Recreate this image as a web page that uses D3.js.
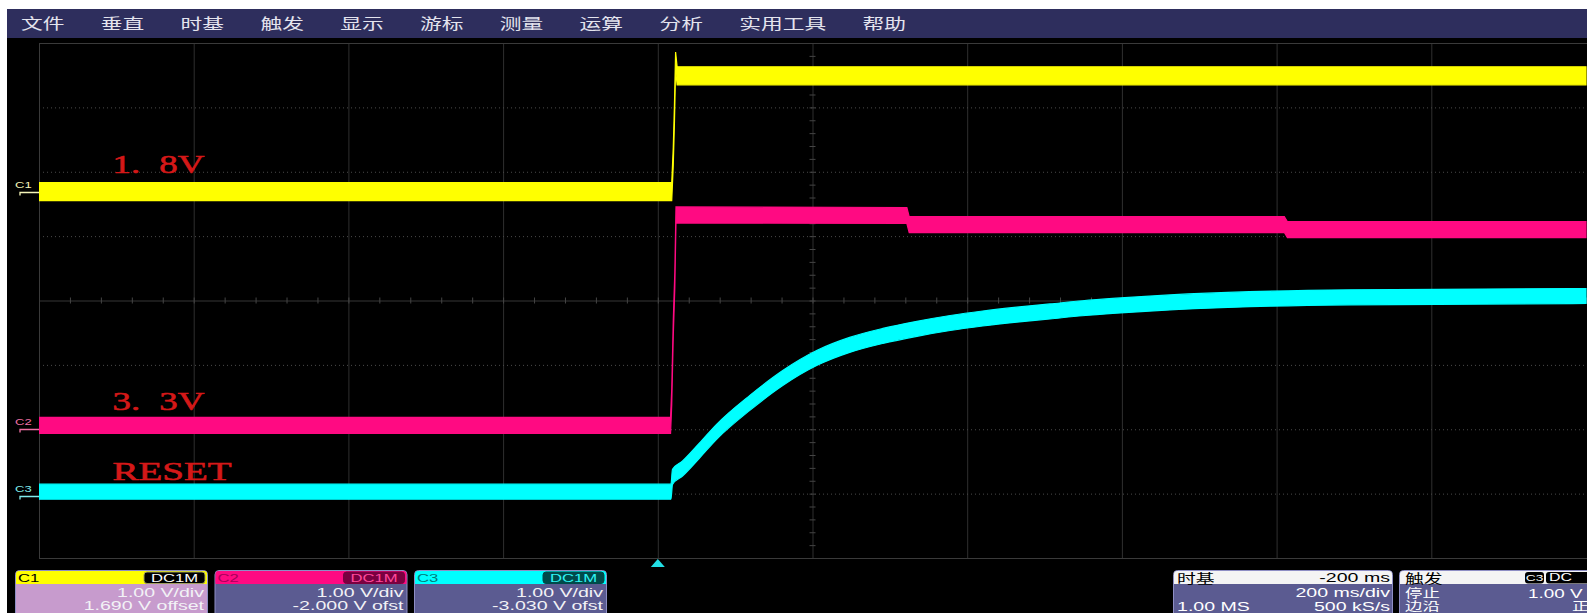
<!DOCTYPE html>
<html>
<head>
<meta charset="utf-8">
<script src="https://cdn.jsdelivr.net/npm/d3@7/dist/d3.min.js"></script>
<style>
html,body{margin:0;padding:0;background:#fff;overflow:hidden;}
svg{display:block;}
</style>
</head>
<body>
<svg id="scope" width="1587" height="613"></svg>
<script>
// ---------------- data ----------------
const menuItems = ["文件","垂直","时基","触发","显示","游标","测量","运算","分析","实用工具","帮助"];
const timeTicks = [-800,-600,-400,-200,0,200,400,600,800,1000,1200]; // ms (200 ms/div)
const divTicks  = [-4,-3,-2,-1,0,1,2,3,4];                            // screen divisions
const channelNames  = ["C1","C2","C3"];
const voltsPerDiv   = [1.00,1.00,1.00];
const offsets       = [1.690,-2.000,-3.030];
const offsetWords   = ["offset","ofst","ofst"];
const couplings     = ["DC1M","DC1M","DC1M"];
const annotations   = ["1.8V","3.3V","RESET"];
// [time (ms from trigger), volts]
const c1Points = [[-800,0.00],[18,0.00],[20,0.55],[21.5,1.20],[23,2.03],[25,1.80],[1200,1.80]];
const c2Points = [[-800,0.06],[16.5,0.06],[18,0.50],[20,1.57],[22,2.32],[23.5,3.33],[322,3.32],[325,3.18],[810,3.18],[814,3.10],[1200,3.10]];
const c3Points = [[-800,0.06],[17,0.06],[19,0.29],[32,0.42],[54,0.70],[76,0.99],[119,1.44],[162,1.83],[206,2.14],[248,2.34],[291,2.48],[335,2.59],[378,2.68],[420,2.75],[464,2.81],[507,2.86],[549,2.91],[593,2.95],[662,3.00],[765,3.05],[895,3.08],[1200,3.10]];
const tbDelay = "-200 ms", tbPerDiv = "200 ms/div", tbMemory = "1.00 MS", tbRate = "500 kS/s";
const trigTitle = "触发", trigSource = "C3", trigCoupling = "DC", trigLevel = "1.00 V";
const trigState = "停止", trigType = "边沿", trigSlope = "正";

// ---------------- style / layout ----------------
const W = 1587, H = 613;
const SX = 1.45;                       // horizontal stretch of the screenshot text
const colors = ["#ffff00","#ff0a82","#00ffff"];
const markerColors = ["#f4f4b8","#f070a4","#80ecec"];
const bandHalf = [9, 8, 7.5];
const screen = {x0:39, x1:1586, y0:43, y1:558};
const sans = "'Liberation Sans', Arial, sans-serif";
const cjk = "'Noto Sans CJK SC', sans-serif";
const fmt = (v, d) => v.toFixed(d);   // plain hyphen-minus, as on the scope

const svg = d3.select("#scope");
svg.append("rect").attr("width",W).attr("height",H).attr("fill","#fff");
svg.append("rect").attr("x",7).attr("y",9).attr("width",W-7).attr("height",H-9).attr("fill","#000");

function txt(g, x, y, s, o = {}) {
  return g.append("text")
    .attr("transform", `translate(${x},${y}) scale(${o.sx || SX},1)`)
    .attr("text-anchor", o.anchor || "start")
    .attr("font-family", o.font || sans)
    .attr("font-size", o.size || 14)
    .attr("font-weight", o.weight || "normal")
    .attr("fill", o.fill || "#fff")
    .text(s);
}

// ---------------- menu bar ----------------
const menu = svg.append("g");
menu.append("rect").attr("x",7).attr("y",9).attr("width",W-7).attr("height",29).attr("fill","#2e2e5d");
let mx = 21;
menuItems.forEach(m => {
  txt(menu, mx, 28.5, m, {font: cjk, size: 15, fill: "#e4e4ee"});
  mx += m.length * 15 * SX + 36.3;
});

// ---------------- scales ----------------
const x = d3.scaleLinear().domain([timeTicks[0], timeTicks[timeTicks.length-1]]).range([screen.x0, screen.x1]);
const yDiv = d3.scaleLinear().domain([divTicks[0], divTicks[divTicks.length-1]]).range([screen.y1, screen.y0]);
const yCh = i => v => yDiv(v / voltsPerDiv[i] + offsets[i]);

// ---------------- grid ----------------
const grid = svg.append("g");
grid.append("g").attr("transform",`translate(0,${screen.y1})`)
  .call(d3.axisBottom(x).tickValues(timeTicks.slice(1,-1)).tickSize(-(screen.y1-screen.y0)).tickFormat(""))
  .call(g => g.select(".domain").remove())
  .call(g => g.selectAll("line").attr("stroke","#2f2f2f").attr("stroke-width",1));
grid.append("g").attr("transform",`translate(${screen.x0},0)`)
  .call(d3.axisLeft(yDiv).tickValues(divTicks.slice(1,-1)).tickSize(-(screen.x1-screen.x0)).tickFormat(""))
  .call(g => g.select(".domain").remove())
  .call(g => g.selectAll("line").attr("stroke", d => d === 0 ? "#363636" : "#4a4a4a")
     .attr("stroke-dasharray", d => d === 0 ? null : "1,3"));
// minor ticks on the centre axes
const minorT = d3.range(timeTicks[0], timeTicks[timeTicks.length-1] + 1, 40);
const minorV = d3.range(divTicks[0], divTicks[divTicks.length-1] + 0.01, 0.2);
grid.append("g").attr("transform",`translate(0,${yDiv(0)-3})`)
  .call(d3.axisBottom(x).tickValues(minorT).tickSize(6).tickFormat(""))
  .call(g => g.select(".domain").remove())
  .call(g => g.selectAll("line").attr("stroke","#454545"));
grid.append("g").attr("transform",`translate(${x(200)-3},0)`)
  .call(d3.axisRight(yDiv).tickValues(minorV).tickSize(6).tickFormat(""))
  .call(g => g.select(".domain").remove())
  .call(g => g.selectAll("line").attr("stroke","#454545"));
grid.append("rect").attr("x",screen.x0+0.5).attr("y",screen.y0+0.5)
  .attr("width",screen.x1-screen.x0+10).attr("height",screen.y1-screen.y0)
  .attr("fill","none").attr("stroke","#3a3a3a");

// ---------------- traces ----------------
svg.append("clipPath").attr("id","scr").append("rect")
  .attr("x",screen.x0).attr("y",screen.y0).attr("width",W-screen.x0).attr("height",screen.y1-screen.y0);
const traces = svg.append("g").attr("clip-path","url(#scr)");
[c1Points, c2Points, c3Points].forEach((pts, i) => {
  const ys = yCh(i), h = bandHalf[i];
  const area = d3.area()
    .x(d => x(d[0])).y0(d => ys(d[1]) + h).y1(d => ys(d[1]) - h)
    .curve(i === 2 ? d3.curveMonotoneX : d3.curveLinear);
  traces.append("path").datum(pts).attr("d", area)
    .attr("fill", colors[i]).attr("stroke", colors[i]).attr("stroke-width", 1.2);
});

// ---------------- annotations ----------------
const ann = svg.append("g");
const annLift = [19, 19, 16];
annotations.forEach((s, i) => {
  const bx = x(-705), by = yCh(i)(0) - annLift[i];
  const dot = s.indexOf(".");
  const sx = dot >= 0 ? 1.42 : 1.5;
  const t = ann.append("text")
    .attr("transform", `translate(${bx},${by}) scale(${sx},1)`)
    .attr("font-family","'Liberation Serif', 'Times New Roman', serif")
    .attr("font-size",26).attr("fill","#d41818")
    .attr("stroke","#d41818").attr("stroke-width",0.6);
  if (dot >= 0) {
    t.append("tspan").text(s.slice(0, dot + 1));
    t.append("tspan").attr("dx", 13.5).text(s.slice(dot + 1));
  } else {
    t.text(s);
  }
});

// ---------------- channel ground markers ----------------
const mk = svg.append("g");
channelNames.forEach((c, i) => {
  const gy = Math.round(yCh(i)(0)) + 0.5;
  mk.append("path").attr("d", `M20,${gy+3}V${gy}H${screen.x0}`)
    .attr("fill","none").attr("stroke", markerColors[i]).attr("stroke-width",1.3);
  txt(mk, 15, gy - 4.5, c, {size: 9, fill: markerColors[i]});
});

// trigger position marker
svg.append("path")
  .attr("d", `M${x(0)},559 l7,8 h-14 z`)
  .attr("fill","#22e0e6");

// ---------------- channel panels ----------------
const headerText = ["#000","#a8005a","#007a7a"];
const badgeFill  = ["#000","#7a0040","#004a4a"];
const badgeText  = ["#ffffff","#ff4a9c","#30f4f4"];
const bodyFill   = ["#c79bcd","#5b5b91","#5b5b91"];
const panelY = 570, panelW = 192;
channelNames.forEach((c, i) => {
  const px = 15 + i * 199.5;
  const g = svg.append("g");
  g.append("rect").attr("x",px+0.5).attr("y",panelY+0.5).attr("width",panelW).attr("height",60)
    .attr("rx",4).attr("fill",bodyFill[i]).attr("stroke","#8e8ec4");
  g.append("rect").attr("x",px+1).attr("y",panelY+1).attr("width",panelW-1).attr("height",13).attr("rx",3).attr("fill",colors[i]);
  g.append("rect").attr("x",px+1).attr("y",panelY+8).attr("width",panelW-1).attr("height",6).attr("fill",colors[i]);
  txt(g, px+3, panelY+12, c, {size: 11.5, fill: headerText[i]});
  g.append("rect").attr("x",px+panelW-63).attr("y",panelY+2).attr("width",61).attr("height",11.5)
    .attr("rx",3).attr("fill",badgeFill[i]).attr("stroke", i === 0 ? "#a0a060" : badgeFill[i]);
  txt(g, px+panelW-32.5, panelY+12, couplings[i], {size: 11.5, anchor: "middle", fill: badgeText[i]});
  txt(g, px+panelW-3, 596.5, fmt(voltsPerDiv[i], 2) + " V/div", {anchor: "end", size: 13.5, fill: "#f2f2f6"});
  txt(g, px+panelW-3, 610, fmt(offsets[i], 3) + " V " + offsetWords[i], {anchor: "end", size: 13.5, fill: "#f2f2f6"});
});

// ---------------- timebase panel ----------------
const tb = svg.append("g");
const tbx = 1173, tbw = 219;
tb.append("rect").attr("x",tbx+0.5).attr("y",panelY+0.5).attr("width",tbw).attr("height",60).attr("rx",4)
  .attr("fill","#5b5b91").attr("stroke","#8e8ec4");
tb.append("rect").attr("x",tbx+1).attr("y",panelY+1).attr("width",tbw-1).attr("height",13).attr("rx",3).attr("fill","#f4f4f4");
tb.append("rect").attr("x",tbx+1).attr("y",panelY+8).attr("width",tbw-1).attr("height",6).attr("fill","#f4f4f4");
txt(tb, tbx+4, panelY+12.5, "时基", {font: cjk, size: 13, fill: "#000"});
txt(tb, tbx+tbw-2, panelY+12, tbDelay, {anchor: "end", size: 13.5, fill: "#000"});
txt(tb, tbx+tbw-2, 597, tbPerDiv, {anchor: "end", size: 13.5});
txt(tb, tbx+4, 610.5, tbMemory, {size: 13.5});
txt(tb, tbx+tbw-2, 610.5, tbRate, {anchor: "end", size: 13.5});

// ---------------- trigger panel ----------------
const tr = svg.append("g");
const trx = 1399, trw = 230;
tr.append("rect").attr("x",trx+0.5).attr("y",panelY+0.5).attr("width",trw).attr("height",60).attr("rx",4)
  .attr("fill","#5b5b91").attr("stroke","#8e8ec4");
tr.append("rect").attr("x",trx+1).attr("y",panelY+1).attr("width",trw-1).attr("height",13).attr("rx",3).attr("fill","#f4f4f4");
tr.append("rect").attr("x",trx+1).attr("y",panelY+8).attr("width",trw-1).attr("height",6).attr("fill","#f4f4f4");
txt(tr, trx+6, panelY+12.5, trigTitle, {font: cjk, size: 13, fill: "#000"});
tr.append("rect").attr("x",1525).attr("y",panelY+2).attr("width",19).attr("height",11.5).attr("rx",3).attr("fill","#000");
txt(tr, 1534.5, panelY+11, trigSource, {anchor: "middle", size: 9.5, fill: "#fff"});
tr.append("rect").attr("x",1546).attr("y",panelY+2).attr("width",60).attr("height",11.5).attr("rx",3).attr("fill","#000");
txt(tr, 1549, panelY+11, trigCoupling, {size: 11, fill: "#fff"});
txt(tr, trx+6, 597.5, trigState, {font: cjk, size: 12});
txt(tr, 1528, 598, trigLevel, {size: 13});
txt(tr, trx+6, 610.5, trigType, {font: cjk, size: 12});
txt(tr, 1572, 610.5, trigSlope, {font: cjk, size: 12});
</script>
</body>
</html>
